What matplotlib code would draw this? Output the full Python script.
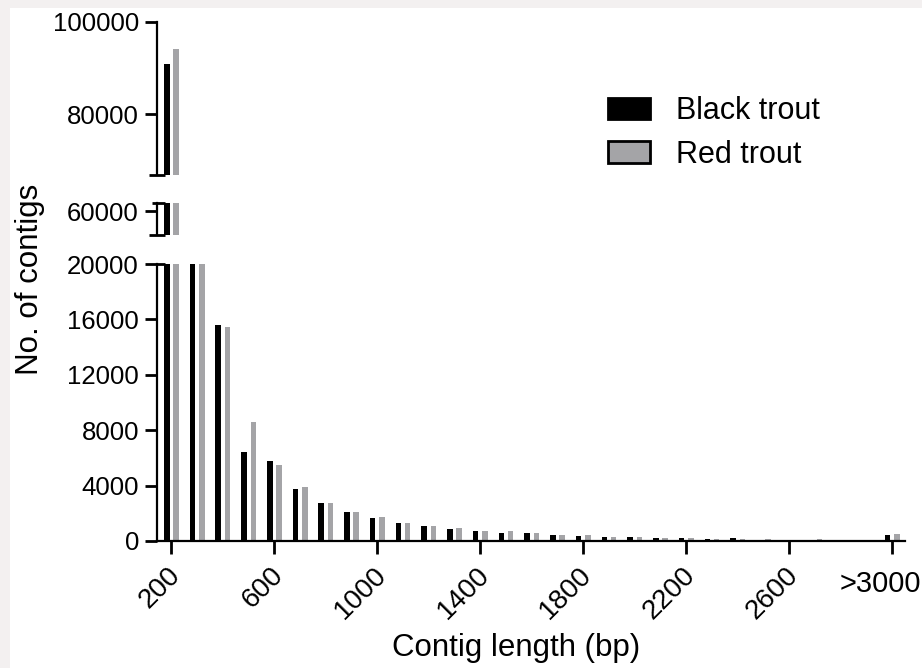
import numpy as np
import matplotlib
matplotlib.use("Agg")
import matplotlib.pyplot as plt
from matplotlib.patches import Patch, Rectangle
from matplotlib.transforms import ScaledTranslation

plt.rcParams['font.family'] = ['Liberation Sans', 'DejaVu Sans']

# ---- data ----
lengths = [str(v) for v in range(200, 3000, 100)] + ['>3000']
black_trout = [90800, 20500, 15600, 6400, 5750, 3760, 2770, 2070, 1640, 1300,
               1060, 870, 690, 590, 545, 400, 350, 300, 265, 215,
               215, 135, 215, 75, 50, 55, 50, 15, 445]
red_trout = [94100, 20400, 15450, 8570, 5490, 3875, 2770, 2100, 1760, 1330,
             1070, 930, 735, 690, 545, 435, 410, 300, 255, 205,
             190, 160, 130, 120, 55, 115, 50, 15, 540]
xtick_labels = ['200', '600', '1000', '1400', '1800', '2200', '2600', '>3000']
xtick_index = [0, 4, 8, 12, 16, 20, 24, 28]
series_names = ['Black trout', 'Red trout']
colors = ['#000000', '#a4a4a7']

W, H = 922, 668
fig = plt.figure(figsize=(W / 100, H / 100), dpi=100)
fig.patch.set_facecolor('#f3f0f0')
fig.add_artist(Rectangle((10 / W, 0), 1, (H - 8) / H, transform=fig.transFigure,
                         facecolor='white', edgecolor='none', zorder=-10))

left = 157 / W
width = (905 - 157) / W

def fpos(top_px, bot_px):
    return [left, (H - bot_px) / H, width, (bot_px - top_px) / H]

ax_bot = fig.add_axes(fpos(264, 541))
ax_mid = fig.add_axes(fpos(203, 235))
ax_top = fig.add_axes(fpos(21.7, 175))
for a in (ax_bot, ax_mid, ax_top):
    a.patch.set_alpha(0)

x = np.arange(len(lengths))
bw = 0.215
off = 0.18
for a in (ax_bot, ax_mid, ax_top):
    a.bar(x - off, black_trout, width=bw, color=colors[0], linewidth=0)
    a.bar(x + off, red_trout, width=bw, color=colors[1], linewidth=0)
    a.set_xlim(-0.56, 28.5)
    for s in ('top', 'right'):
        a.spines[s].set_visible(False)
    a.spines['left'].set_linewidth(1.6)
    a.tick_params(axis='y', length=9, width=2, labelsize=18.5, pad=4)

ax_bot.set_ylim(0, 20000)
ax_bot.set_yticks(np.arange(0, 20001, 4000))
ax_mid.set_ylim(55000, 61700)
ax_mid.set_yticks([60000])
ax_top.set_ylim(66900, 100000)
ax_top.set_yticks([80000, 100000])

for a in (ax_mid, ax_top):
    a.spines['bottom'].set_visible(False)
    a.set_xticks([])

ax_bot.spines['bottom'].set_linewidth(1.6)
ax_bot.set_xticks(xtick_index)
ax_bot.set_xticklabels(xtick_labels, rotation=45, ha='right', va='center',
                       rotation_mode='anchor')
ax_bot.tick_params(axis='x', length=9, width=2, labelsize=20, pad=13)
labels = ax_bot.get_xticklabels()
for lab in labels[:-1]:
    lab.set_transform(lab.get_transform() + ScaledTranslation(0.05, 0.0, fig.dpi_scale_trans))
lab = labels[-1]
lab.set_rotation(0)
lab.set_ha('center')
lab.set_fontsize(21)
lab.set_transform(lab.get_transform() + ScaledTranslation(-0.12, -0.12, fig.dpi_scale_trans))

# break caps (Prism style)
cap = 8 / (905 - 157)
def capline(a, y, x0, x1):
    a.plot([x0, x1], [y, y], transform=a.transAxes, color='black', lw=2,
           clip_on=False, solid_capstyle='butt')
capline(ax_top, 0, -cap, cap)
capline(ax_mid, 0, -cap, cap)
capline(ax_mid, 1, -cap * 0.6, cap)
capline(ax_bot, 1, 0, cap)

# labels
fig.text(30 / W, (H - 279) / H, 'No. of contigs', rotation=90, ha='center',
         va='center', fontsize=22.5)
fig.text(516 / W, (H - 648) / H, 'Contig length (bp)', ha='center', va='center',
         fontsize=22.5)

handles = [Patch(facecolor=colors[0], edgecolor='black', linewidth=2),
           Patch(facecolor=colors[1], edgecolor='black', linewidth=2)]
fig.legend(handles, series_names, loc='upper left',
           bbox_to_anchor=(608 / W, (H - 96) / H), bbox_transform=fig.transFigure,
           frameon=False, fontsize=22, handlelength=1.37, handleheight=0.7,
           handletextpad=0.85, labelspacing=0.45, borderpad=0, borderaxespad=0)

fig.savefig('out.png', dpi=100, facecolor=fig.get_facecolor())
